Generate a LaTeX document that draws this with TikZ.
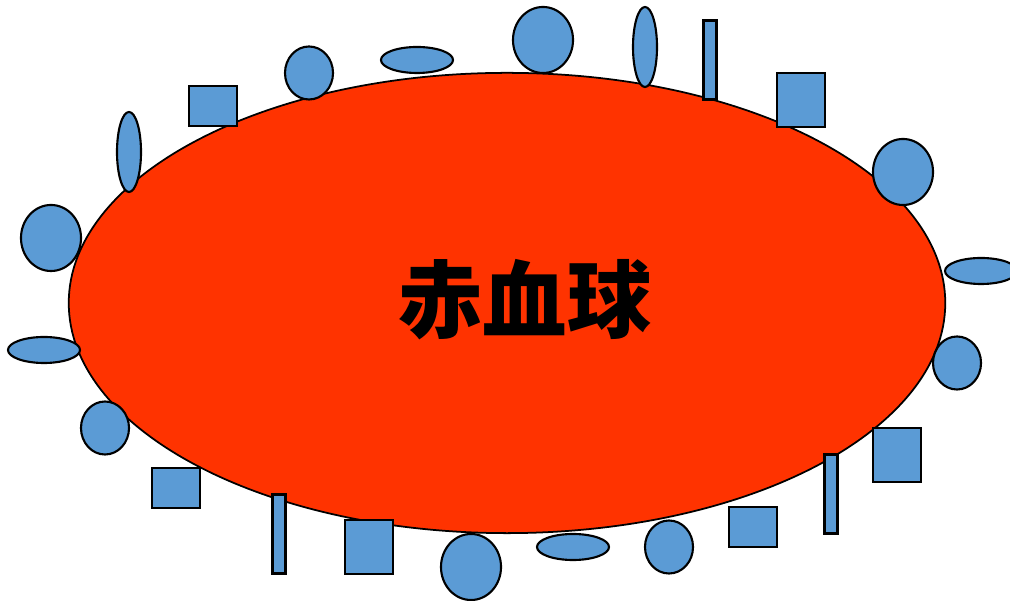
\documentclass[tikz,border=0pt]{standalone}
\usepackage{fontspec}
\newfontfamily\cjk{Noto Sans CJK SC}
\usepackage{tikz}
\usetikzlibrary{shapes.geometric}

\definecolor{cellred}{RGB}{255,51,0}
\definecolor{dotblue}{RGB}{91,155,213}

\begin{document}
\begin{tikzpicture}[
      x=0.01cm, y=-0.01cm,
      cell/.style={ellipse, draw, fill=cellred, line width=0.5pt, inner sep=0pt, minimum width=8.76cm, minimum height=4.6cm},
      bump/.style={draw, fill=dotblue, line width=0.6pt, inner sep=0pt},
      bigdot/.style={bump, ellipse, minimum width=0.6cm, minimum height=0.66cm},
      smalldot/.style={bump, ellipse, minimum width=0.48cm, minimum height=0.53cm},
      flatdot/.style={bump, ellipse, minimum width=0.72cm, minimum height=0.26cm},
      talldot/.style={bump, ellipse, minimum width=0.24cm, minimum height=0.8cm},
      platebox/.style={bump, rectangle, minimum width=0.48cm, minimum height=0.4cm},
      cubebox/.style={bump, rectangle, minimum width=0.48cm, minimum height=0.54cm},
      rodbox/.style={bump, rectangle, minimum width=0.13cm, minimum height=0.79cm}
    ]
      \useasboundingbox (0,0) rectangle (1010,601);

      % the red cell
      \node[cell] (rbc) at (507,303) {};
      \node[font=\cjk\bfseries\fontsize{24pt}{24pt}\selectfont] (name) at (525,300) {赤血球};

      % top edge, left to right
      \node[bigdot] (d1) at (51,238) {};
      \node[talldot] (d2) at (129,152) {};
      \node[platebox] (d3) at (213,106) {};
      \node[smalldot] (d4) at (309,73) {};
      \node[flatdot] (d5) at (417,60) {};
      \node[bigdot] (d6) at (543,40) {};
      \node[talldot] (d7) at (645,47) {};
      \node[rodbox] (d8) at (710,60) {};
      \node[cubebox] (d9) at (801,100) {};
      \node[bigdot] (d10) at (903,172) {};
      \node[flatdot] (d11) at (981,271) {};

      % bottom edge, left to right
      \node[flatdot] (d12) at (44,350) {};
      \node[smalldot] (d13) at (105,428) {};
      \node[platebox] (d14) at (176,488) {};
      \node[rodbox] (d15) at (279,534) {};
      \node[cubebox] (d16) at (369,547) {};
      \node[bigdot] (d17) at (471,567) {};
      \node[flatdot] (d18) at (573,547) {};
      \node[smalldot] (d19) at (669,547) {};
      \node[platebox] (d20) at (753,527) {};
      \node[rodbox] (d21) at (831,494) {};
      \node[cubebox] (d22) at (897,455) {};
      \node[smalldot] (d23) at (957,363) {};
    \end{tikzpicture}
\end{document}
